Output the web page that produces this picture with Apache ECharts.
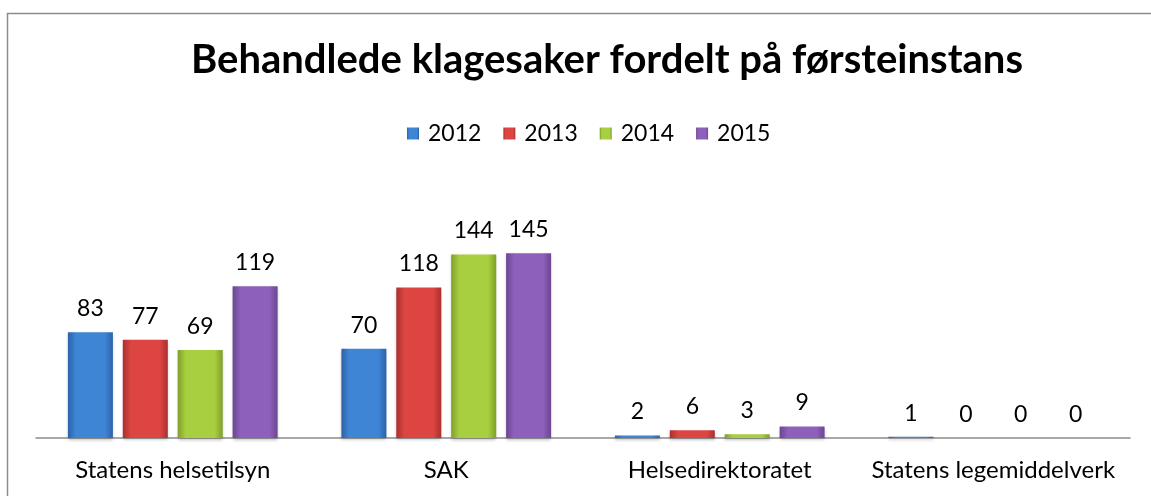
<!DOCTYPE html>
<html>
<head>
<meta charset="utf-8">
<script src="https://cdn.jsdelivr.net/npm/echarts@6/dist/echarts.min.js"></script>
<style>
  html, body { margin: 0; padding: 0; background: #fff; }
  #chart { width: 1151px; height: 496px; }
</style>
</head>
<body>
<div id="chart"></div>
<script>
const categories = ['Statens helsetilsyn', 'SAK', 'Helsedirektoratet', 'Statens legemiddelverk']
const years = ['2012', '2013', '2014', '2015']
const data2012 = [83, 70, 2, 1]
const data2013 = [77, 118, 6, 0]
const data2014 = [69, 144, 3, 0]
const data2015 = [119, 145, 9, 0]

// edge / middle colours for the bevelled bars
const palette = [
  ['#2c62a8', '#3f85d6'],
  ['#a9302e', '#dc4542'],
  ['#7f9f2a', '#a8cf3f'],
  ['#6a4692', '#8d60bc']
]

const font = 'Lato, "Open Sans", sans-serif'

function barFill(c) {
  return new echarts.graphic.LinearGradient(0, 0, 1, 0, [
    { offset: 0, color: c[0] },
    { offset: 0.18, color: c[1] },
    { offset: 0.82, color: c[1] },
    { offset: 1, color: c[0] }
  ])
}

const seriesData = [data2012, data2013, data2014, data2015]

const chart = echarts.init(document.getElementById('chart'))
chart.setOption({
  animation: false,
  graphic: [
    {
      type: 'rect',
      shape: { x: 7.5, y: 13.5, width: 1300, height: 600 },
      style: { fill: 'none', stroke: '#8c8c8c', lineWidth: 1.5 },
      silent: true
    }
  ],
  title: {
    text: 'Behandlede klagesaker fordelt på førsteinstans',
    left: 602,
    textAlign: 'center',
    top: 35,
    textStyle: { fontFamily: font, fontWeight: 'bold', fontSize: 40, color: '#000' }
  },
  legend: {
    data: years,
    top: 117,
    left: 402,
    icon: 'rect',
    itemWidth: 12,
    itemHeight: 12,
    itemGap: 22,
    textStyle: { fontFamily: font, fontSize: 23, color: '#000', padding: [0, 0, 0, 4] }
  },
  grid: { left: 36, right: 21, top: 234, bottom: 58 },
  xAxis: {
    type: 'category',
    data: categories,
    axisLine: { lineStyle: { color: '#8c8c8c', width: 1.5 } },
    axisTick: { show: false },
    axisLabel: { interval: 0, fontFamily: font, fontSize: 24, color: '#000', margin: 20 }
  },
  yAxis: {
    type: 'value',
    min: 0,
    max: 160,
    show: false,
    splitLine: { show: false }
  },
  series: years.map((y, i) => ({
    name: y,
    type: 'bar',
    data: seriesData[i],
    barWidth: 45,
    barGap: '22%',
    itemStyle: {
      color: barFill(palette[i]),
      shadowColor: 'rgba(0,0,0,0.25)',
      shadowBlur: 3,
      shadowOffsetY: 2
    },
    label: {
      show: true,
      position: 'top',
      distance: 12,
      fontFamily: font,
      fontSize: 23,
      color: '#000'
    }
  }))
})
</script>
</body>
</html>
